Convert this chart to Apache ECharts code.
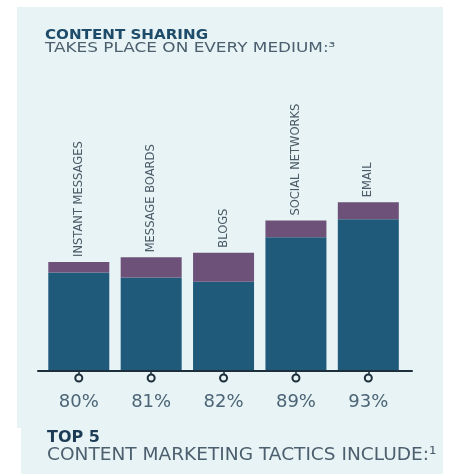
<!DOCTYPE html>
<html>
<head>
<meta charset="utf-8">
<script src="https://cdn.jsdelivr.net/npm/echarts@6/dist/echarts.min.js"></script>
<style>
  html, body { margin: 0; padding: 0; background: #ffffff; }
  #chart { width: 449px; height: 474px; }
</style>
</head>
<body>
<div id="chart"></div>
<script>
// Media where content gets shared
const mediums = ['INSTANT MESSAGES', 'MESSAGE BOARDS', 'BLOGS', 'SOCIAL NETWORKS', 'EMAIL'];
// Share of respondents per medium (stated under each bar)
const shareLabels = ['80%', '81%', '82%', '89%', '93%'];
// Lower (teal) segment of each bar
const baseValues = [77.7, 76.6, 75.7, 85.4, 89.3];
// Upper (purple) cap of each bar; base + cap = stated share
const capValues = [2.3, 4.4, 6.3, 3.6, 3.7];
// Marker row beneath the axis, one per medium
const markerValues = [0, 0, 0, 0, 0];

const PANEL = '#e7f3f5';
const TEAL = '#1f5a7b';
const PURPLE = '#6d5179';
const INK = '#1e2f3c';
const FONT = 'DejaVu Sans';

const chart = echarts.init(document.getElementById('chart'), null, { renderer: 'canvas' });

chart.setOption({
  animation: false,
  backgroundColor: 'transparent',
  graphic: [
    { type: 'rect', z: -10, shape: { x: 17, y: 7, width: 426, height: 421 }, style: { fill: PANEL } },
    { type: 'rect', z: -10, shape: { x: 21, y: 427, width: 422, height: 47 }, style: { fill: PANEL } },
    { type: 'text', x: 45, y: 28.5, scaleX: 1.12,
      style: { text: 'CONTENT SHARING', font: 'bold 13.5px "DejaVu Sans"', fill: '#1d4b69' } },
    { type: 'text', x: 45, y: 41.5, scaleX: 1.25,
      style: { text: 'TAKES PLACE ON EVERY MEDIUM:\u00b3', font: '13.5px "DejaVu Sans"', fill: '#4c5f6e' } },
    { type: 'text', x: 47, y: 430,
      style: { text: 'TOP 5', font: 'bold 16px "DejaVu Sans"', fill: '#1c3c55' } },
    { type: 'text', x: 47, y: 446.5, scaleX: 1.03,
      style: { text: 'CONTENT MARKETING TACTICS INCLUDE:\u00b9', font: '18px "DejaVu Sans"', fill: '#4c5f6e' } }
  ],
  grid: [
    { left: 42.6, right: 44.5, top: 170, bottom: 104 },
    { left: 42.6, right: 44.5, top: 374, height: 8 },
    { left: 38, right: 37, top: 370, height: 1 }
  ],
  xAxis: [
    {
      type: 'category', gridIndex: 0, data: mediums,
      axisLine: { show: false },
      axisTick: { show: true, alignWithLabel: true, length: 5, lineStyle: { color: INK, width: 1.5 } },
      axisLabel: {
        margin: 23, fontFamily: FONT, fontSize: 18, lineHeight: 18, color: '#4b6476',
        formatter: (v, i) => shareLabels[i]
      }
    },
    { type: 'category', gridIndex: 1, data: mediums, show: false },
    {
      type: 'value', gridIndex: 2, min: 0, max: 1,
      axisLine: { show: true, lineStyle: { color: INK, width: 2 } },
      axisTick: { show: false }, axisLabel: { show: false }, splitLine: { show: false }
    }
  ],
  yAxis: [
    { type: 'value', gridIndex: 0, min: 56.5, max: 100, show: false, splitLine: { show: false } },
    { type: 'value', gridIndex: 1, min: -1, max: 1, show: false, splitLine: { show: false } },
    { type: 'value', gridIndex: 2, min: 0, max: 1, show: false, splitLine: { show: false } }
  ],
  series: [
    {
      type: 'bar', name: 'base', stack: 'share', xAxisIndex: 0, yAxisIndex: 0,
      data: baseValues, barWidth: 61, itemStyle: { color: TEAL }
    },
    {
      type: 'bar', name: 'cap', stack: 'share', xAxisIndex: 0, yAxisIndex: 0,
      data: capValues, barWidth: 61, itemStyle: { color: PURPLE },
      label: {
        show: true, position: 'top', distance: 5, rotate: 90,
        align: 'left', verticalAlign: 'middle',
        fontFamily: FONT, fontSize: 11.5, color: '#4a5a66',
        formatter: p => p.name
      }
    },
    {
      type: 'scatter', xAxisIndex: 1, yAxisIndex: 1, data: markerValues,
      symbol: 'circle', symbolSize: 7,
      itemStyle: { color: PANEL, borderColor: INK, borderWidth: 2, opacity: 1 }
    }
  ]
});
</script>
</body>
</html>
